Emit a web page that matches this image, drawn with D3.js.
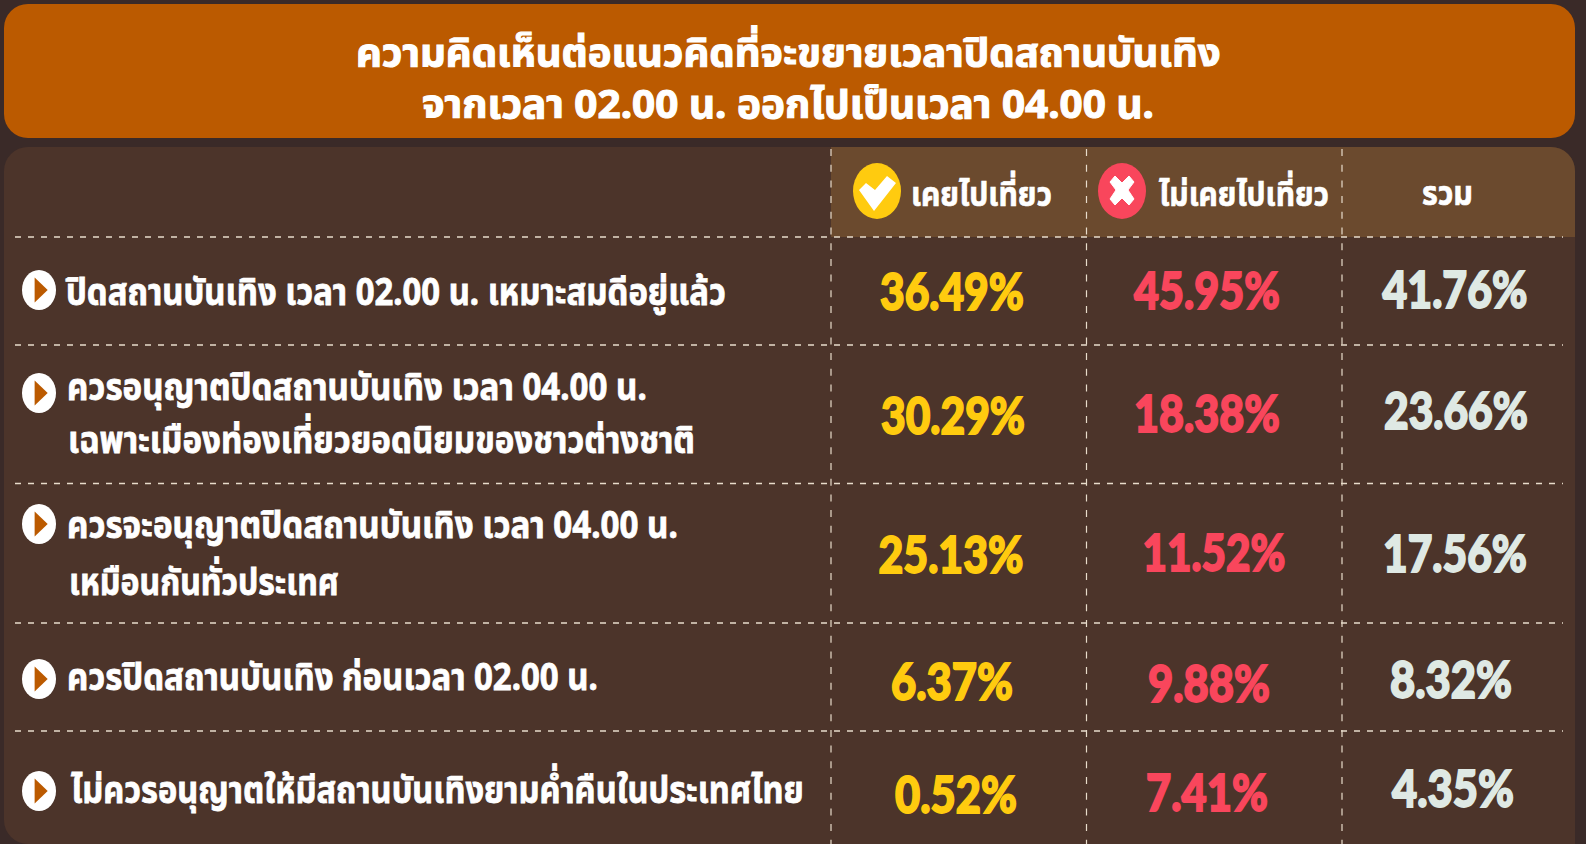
<!DOCTYPE html>
<html>
<head>
<meta charset="utf-8">
<script src="https://cdn.jsdelivr.net/npm/d3@7"></script>
<style>
  html, body { margin: 0; padding: 0; background: #3a2a28; overflow: hidden; }
  svg { display: block; }
  text { font-family: "Noto Sans", "Noto Sans Thai", "Open Sans", sans-serif; font-weight: 700; }
</style>
</head>
<body>
<svg id="chart" width="1586" height="844"></svg>
<script>
const titleLines = ["ความคิดเห็นต่อแนวคิดที่จะขยายเวลาปิดสถานบันเทิง", "จากเวลา 02.00 น. ออกไปเป็นเวลา 04.00 น."];
const columns = ["เคยไปเที่ยว", "ไม่เคยไปเที่ยว", "รวม"];
const rowIds = ["r1", "r2", "r3", "r4", "r5"];
const rowLabels = [
  ["ปิดสถานบันเทิง เวลา 02.00 น. เหมาะสมดีอยู่แล้ว"],
  ["ควรอนุญาตปิดสถานบันเทิง เวลา 04.00 น.", "เฉพาะเมืองท่องเที่ยวยอดนิยมของชาวต่างชาติ"],
  ["ควรจะอนุญาตปิดสถานบันเทิง เวลา 04.00 น.", "เหมือนกันทั่วประเทศ"],
  ["ควรปิดสถานบันเทิง ก่อนเวลา 02.00 น."],
  ["ไม่ควรอนุญาตให้มีสถานบันเทิงยามค่ำคืนในประเทศไทย"]
];
const visited = [36.49, 30.29, 25.13, 6.37, 0.52];
const notVisited = [45.95, 18.38, 11.52, 9.88, 7.41];
const total = [41.76, 23.66, 17.56, 8.32, 4.35];
const series = [visited, notVisited, total];
const seriesColors = ["#ffcb0f", "#f9465c", "#dfe9e4"];

const svg = d3.select("#chart");
const W = 1586, H = 844;

// column edges and row edges
const colX = d3.scalePoint().domain(columns).range([831, 1342]);
const rowY = d3.scaleOrdinal().domain(rowIds).range([237, 345, 483.5, 623, 731]);
const valueX = d3.scaleOrdinal().domain(columns).range([952, 1207, 1455]);
const valueY = d3.scaleOrdinal().domain(rowIds).range([310, 434, 573, 700, 813]);
const bulletY = d3.scaleOrdinal().domain(rowIds).range([290, 393, 524, 679, 791]);
const fmt = d3.format(".2f");

// the numbers in the picture do not sit on a strict grid
const nudgeX = [[0, 0, 0], [1, 0, 1], [-1, 7, 0], [0, 2, -4], [4, 0, -2]];
const nudgeY = [[0, -1, -2], [0, -2, -5], [0, -2, -1], [0, 2, -2], [0, -2, -6]];

// stretch a text horizontally until it has the wanted width
function fitWidth(sel, width) {
  sel.each(function () {
    const t = d3.select(this);
    const w = this.getComputedTextLength();
    const x = +t.attr("x"), y = +t.attr("y");
    t.attr("transform", `translate(${x},${y}) scale(${width / w},1) translate(${-x},${-y})`);
  });
}

// title band
svg.append("rect").attr("x", 4).attr("y", 4).attr("width", 1571).attr("height", 134).attr("rx", 24).attr("fill", "#bb5a00");
const titleW = [865, 732];
const titleX = [356, 422];
const titleY = [66, 118];
titleLines.forEach((s, i) => {
  svg.append("text").attr("x", titleX[i]).attr("y", titleY[i]).attr("font-size", 39)
    .attr("fill", "#fff").attr("stroke", "#fff").attr("stroke-width", 1.1)
    .text(s).call(fitWidth, titleW[i]);
});

// panel + header
svg.append("path").attr("fill", "#4c342a")
  .attr("d", `M4,171 a24,24 0 0 1 24,-24 H1551 a24,24 0 0 1 24,24 V844 H28 a24,24 0 0 1 -24,-24 Z`);
svg.append("path").attr("fill", "#6b4a2e")
  .attr("d", `M831,147 H1551 a24,24 0 0 1 24,24 V237 H831 Z`);

// grid
svg.append("g").selectAll("line").data(rowIds).join("line")
  .attr("x1", 15).attr("x2", 1563)
  .attr("y1", d => rowY(d)).attr("y2", d => rowY(d))
  .attr("stroke", "#e8dccb").attr("stroke-width", 1.3).attr("stroke-dasharray", "6 7");
svg.append("g").selectAll("line").data(columns).join("line")
  .attr("x1", d => colX(d)).attr("x2", d => colX(d))
  .attr("y1", 149).attr("y2", H)
  .attr("stroke", "#e8dccb").attr("stroke-width", 1.2).attr("stroke-dasharray", "7 8.7");

// header icons
const check = svg.append("g").attr("transform", "translate(877,191)");
check.append("ellipse").attr("rx", 24).attr("ry", 28).attr("fill", "#ffcb0f");
check.append("path").attr("d", "M-18,-1 L-3,20 L19,-8 L10,-15 L-2,-1 L-11,-8 Z").attr("fill", "#fff");
const cross = svg.append("g").attr("transform", "translate(1122,191)");
cross.append("ellipse").attr("rx", 24).attr("ry", 28).attr("fill", "#f9465c");
cross.append("path").attr("d", "M-6,-1 L-12,-9 L-7,-15 L0,-8 L7,-15 L12,-9 L6,-1 L12,8 L7,14 L0,7 L-7,14 L-12,8 Z").attr("fill", "#fff")
  .attr("stroke", "#fff").attr("stroke-width", 1).attr("stroke-linejoin", "round");

const headerX = [911, 1159, 1422];
const headerW = [141, 170, 51];
const headerY = [206, 206, 205];
columns.forEach((c, i) => {
  svg.append("text").attr("x", headerX[i]).attr("y", headerY[i]).attr("font-size", 34)
    .attr("fill", "#fff").attr("stroke", "#fff").attr("stroke-width", 0.7)
    .text(c).call(fitWidth, headerW[i]);
});

// row bullets
const bullets = svg.append("g").selectAll("g").data(rowIds).join("g")
  .attr("transform", d => `translate(39,${bulletY(d)})`);
bullets.append("ellipse").attr("rx", 17).attr("ry", 20).attr("fill", "#fff");
bullets.append("path").attr("d", d3.symbol(d3.symbolTriangle, 170)).attr("fill", "#bb5a00")
  .attr("transform", "rotate(90) scale(1.26,0.76)");

// row labels
const labelX = [[66], [67, 68], [67, 69], [67], [71]];
const labelBase = [[305], [400, 453], [538, 595], [690], [803]];
const labelW = [[660], [580, 627], [611, 270], [531], [733]];
rowLabels.forEach((lines, i) => {
  lines.forEach((s, j) => {
    svg.append("text").attr("x", labelX[i][j]).attr("y", labelBase[i][j]).attr("font-size", 38)
      .attr("fill", "#fff").attr("stroke", "#fff").attr("stroke-width", 0.8)
      .text(s).call(fitWidth, labelW[i][j]);
  });
});

// values
const valueW = [[144, 146, 145], [144, 146, 144], [145, 143, 144], [122, 122, 122], [122, 122, 122]];
series.forEach((vals, c) => {
  svg.append("g").selectAll("text").data(vals).join("text")
    .attr("x", (d, i) => valueX(columns[c]) + nudgeX[i][c] - valueW[i][c] / 2)
    .attr("y", (d, i) => valueY(rowIds[i]) + nudgeY[i][c])
    .style("font-family", "Lato").style("font-weight", 900)
    .attr("font-size", 52).attr("fill", seriesColors[c])
    .attr("stroke", seriesColors[c]).attr("stroke-width", 1.8)
    .text(d => fmt(d) + "%")
    .each(function (d, i) { d3.select(this).call(fitWidth, valueW[i][c]); });
});
</script>
</body>
</html>
